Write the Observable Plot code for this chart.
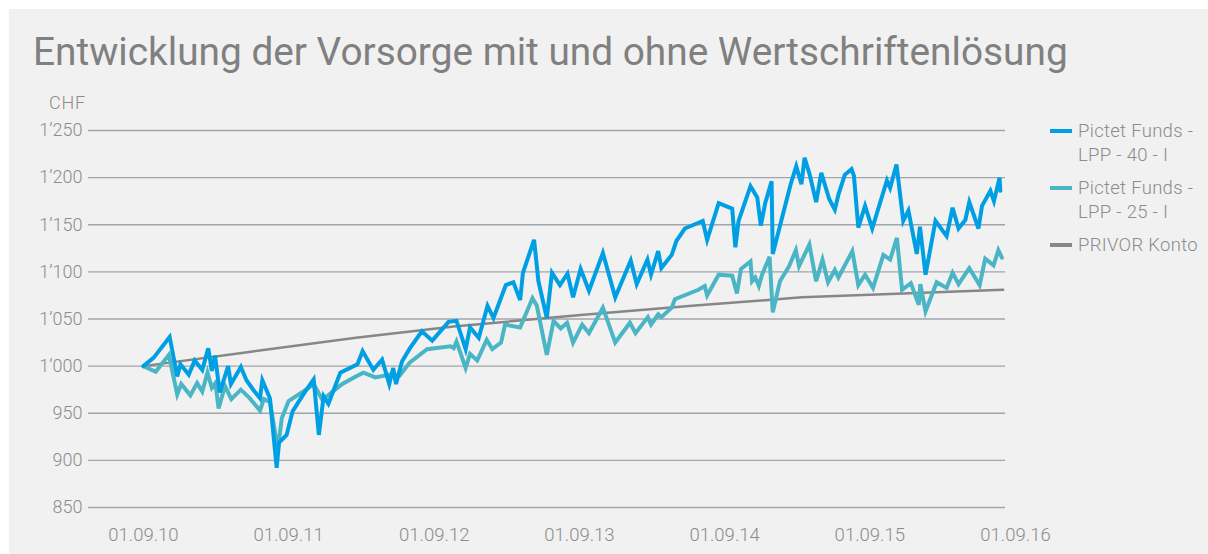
<!DOCTYPE html>
<html><head><meta charset="utf-8">
<script src="https://cdn.jsdelivr.net/npm/d3@7"></script>
<script src="https://cdn.jsdelivr.net/npm/@observablehq/plot@0.6"></script>
<style>
body{margin:0;background:#fff;font-family:Roboto,sans-serif;}
#panel{position:absolute;left:9px;top:9px;width:1199px;height:545px;background:#f1f1f1;overflow:hidden}
#title{position:absolute;left:24px;top:23px;font-size:38.8px;line-height:40px;color:#808080;white-space:nowrap}
#chf{position:absolute;left:0;width:77px;text-align:right;top:83px;font-size:18px;line-height:22px;color:#8c8c8c;font-weight:300;letter-spacing:0.8px}
#chart{position:absolute;left:0;top:81px}
#chart svg text{font-weight:300}
.entry{position:absolute;left:1041px;font-size:18.5px;line-height:24px;color:#8c8c8c;font-weight:300;letter-spacing:0.3px}
.sw{position:absolute;left:0;top:10px;width:22px;height:4px}
.txt{position:absolute;left:28px;top:0;white-space:nowrap}
</style></head>
<body>
<div id="panel">
  <div id="title">Entwicklung der Vorsorge mit und ohne Wertschriftenlösung</div>
  <div id="chf">CHF</div>
  <div id="chart"></div>
  <div id="legend"></div>
</div>
<script>
const seriesNames = ["Pictet Funds -\nLPP - 40 - I", "Pictet Funds -\nLPP - 25 - I", "PRIVOR Konto"];
const seriesColors = ["#009fe3", "#4ab5c4", "#878787"];

const dates40 = ["2010-09-01","2010-09-27","2010-11-06","2010-11-25","2010-12-03","2010-12-24","2011-01-08","2011-01-27","2011-02-11","2011-02-20","2011-02-28","2011-03-12","2011-04-02","2011-04-09","2011-05-04","2011-05-18","2011-06-04","2011-06-21","2011-06-27","2011-07-16","2011-08-02","2011-08-08","2011-08-27","2011-09-11","2011-10-08","2011-11-03","2011-11-16","2011-11-28","2011-12-10","2012-01-09","2012-02-21","2012-03-05","2012-04-01","2012-04-23","2012-05-11","2012-05-21","2012-05-28","2012-06-12","2012-07-02","2012-08-01","2012-08-27","2012-10-07","2012-10-27","2012-11-19","2012-11-30","2012-12-22","2013-01-13","2013-01-28","2013-02-28","2013-03-19","2013-04-05","2013-04-12","2013-05-10","2013-05-21","2013-06-11","2013-06-24","2013-07-14","2013-08-02","2013-08-16","2013-09-04","2013-09-25","2013-10-30","2013-11-30","2014-01-08","2014-01-23","2014-02-19","2014-02-28","2014-03-18","2014-03-26","2014-04-21","2014-05-03","2014-05-24","2014-07-08","2014-07-19","2014-08-17","2014-09-20","2014-09-28","2014-10-06","2014-11-05","2014-11-22","2014-12-01","2014-12-12","2014-12-28","2014-12-31","2015-01-28","2015-02-14","2015-02-28","2015-03-13","2015-03-21","2015-04-03","2015-04-19","2015-05-02","2015-05-22","2015-06-05","2015-06-14","2015-06-30","2015-07-17","2015-07-23","2015-08-03","2015-08-20","2015-09-07","2015-10-14","2015-10-22","2015-11-07","2015-11-24","2015-12-07","2015-12-28","2016-01-05","2016-01-19","2016-02-13","2016-03-12","2016-03-27","2016-04-11","2016-04-28","2016-05-08","2016-05-31","2016-06-09","2016-06-30","2016-07-09","2016-07-23","2016-07-25"];
const values40 = [1000,1009,1031,989,1002,991,1006,996,1019,995,1011,972,1000,981,999,985,975,966,985,966,892,919,927,952,970,986,927,968,960,993,1002,1016,996,1007,981,998,981,1005,1019,1037,1027,1047,1048,1018,1041,1030,1064,1051,1086,1089,1070,1099,1134,1090,1051,1099,1086,1098,1073,1103,1080,1120,1073,1112,1087,1113,1097,1122,1104,1118,1133,1146,1154,1134,1173,1167,1126,1154,1191,1179,1149,1173,1196,1119,1165,1193,1212,1193,1221,1203,1174,1205,1177,1166,1182,1203,1209,1202,1147,1170,1146,1197,1189,1214,1154,1165,1119,1148,1097,1154,1138,1168,1146,1155,1174,1146,1170,1186,1175,1200,1186];

const dates25 = ["2010-09-01","2010-10-02","2010-11-04","2010-11-25","2010-12-05","2010-12-28","2011-01-14","2011-01-27","2011-02-09","2011-02-20","2011-03-01","2011-03-09","2011-03-25","2011-04-10","2011-05-04","2011-05-26","2011-06-21","2011-07-01","2011-07-16","2011-08-05","2011-08-15","2011-09-01","2011-10-04","2011-11-03","2011-11-24","2011-12-06","2012-01-14","2012-02-17","2012-03-07","2012-04-06","2012-05-13","2012-06-06","2012-07-02","2012-08-14","2012-10-12","2012-10-20","2012-10-27","2012-11-19","2012-11-30","2012-12-18","2013-01-11","2013-01-25","2013-02-16","2013-02-26","2013-04-05","2013-05-06","2013-05-17","2013-06-11","2013-06-28","2013-07-16","2013-08-01","2013-08-16","2013-09-08","2013-09-25","2013-10-30","2013-11-30","2014-01-06","2014-01-20","2014-02-20","2014-02-28","2014-03-18","2014-03-26","2014-04-21","2014-04-29","2014-06-27","2014-07-13","2014-07-19","2014-08-17","2014-09-20","2014-10-02","2014-10-12","2014-11-05","2014-11-09","2014-11-17","2014-11-26","2014-12-04","2014-12-23","2014-12-31","2015-01-18","2015-02-10","2015-02-27","2015-03-07","2015-04-02","2015-04-19","2015-05-05","2015-05-19","2015-06-05","2015-06-14","2015-07-19","2015-08-03","2015-08-20","2015-09-09","2015-10-05","2015-10-22","2015-11-08","2015-11-21","2015-12-13","2016-01-02","2016-01-06","2016-01-19","2016-02-16","2016-03-12","2016-03-27","2016-04-11","2016-05-08","2016-06-03","2016-06-17","2016-07-08","2016-07-20","2016-07-29"];
const values25 = [1000,994,1012,970,981,969,982,973,993,977,982,955,979,965,975,966,953,965,962,912,945,963,972,981,965,968,981,989,993,988,991,990,1004,1018,1021,1019,1026,998,1013,1006,1028,1018,1025,1044,1041,1072,1064,1012,1048,1040,1046,1025,1044,1035,1062,1025,1046,1035,1052,1044,1055,1052,1062,1071,1081,1085,1075,1097,1096,1077,1103,1111,1090,1094,1085,1097,1116,1057,1090,1106,1123,1106,1129,1090,1113,1089,1102,1094,1122,1086,1097,1083,1118,1113,1136,1081,1088,1065,1087,1058,1089,1083,1099,1087,1104,1086,1114,1107,1123,1115];

const datesPrivor = ["2010-09-01","2011-05-25","2012-02-17","2012-10-20","2013-08-28","2014-06-11","2015-03-14","2015-11-24","2016-08-01"];
const valuesPrivor = [1000,1015,1030,1042,1054,1064,1073,1077,1081];

const yTicks = [850,900,950,1000,1050,1100,1150,1200,1250];
const xTickLabels = ["2010-09-01","2011-09-01","2012-09-01","2013-09-01","2014-09-01","2015-09-01","2016-09-01"];
const xDomain = ["2010-04-16","2016-08-07"];

const parse = d3.utcParse("%Y-%m-%d");
const zip = (ds, vs) => ds.map((d, i) => ({date: parse(d), value: vs[i]}));
const lpp40 = zip(dates40, values40);
const lpp25 = zip(dates25, values25);
const privor = zip(datesPrivor, valuesPrivor);

const loc = d3.formatLocale({decimal: ".", thousands: "\u2019", grouping: [3], currency: ["", ""]});
const yFmt = loc.format(",d");
const xFmt = d3.utcFormat("%d.%m.%y");

const chart = Plot.plot({
  width: 1199, height: 464,
  marginTop: 40, marginBottom: 47, marginLeft: 79, marginRight: 203,
  style: {background: "transparent", fontFamily: "Roboto, sans-serif", fontSize: "18px", color: "#8c8c8c", overflow: "visible"},
  x: {type: "utc", domain: xDomain.map(parse)},
  y: {domain: [850, 1250]},
  marks: [
    Plot.gridY(yTicks, {stroke: "#a0a6ac", strokeOpacity: 1, strokeWidth: 1.3}),
    Plot.axisY(yTicks, {tickSize: 0, tickPadding: 6, tickFormat: yFmt, label: null, fill: "#8c8c8c"}),
    Plot.axisX(xTickLabels.map(parse), {tickSize: 0, tickPadding: 20, tickFormat: xFmt, label: null, fill: "#8c8c8c", fontSize: 18.5, style: {letterSpacing: "1.9px"}}),
    Plot.line(privor, {x: "date", y: "value", stroke: seriesColors[2], strokeWidth: 2.5}),
    Plot.line(lpp25, {x: "date", y: "value", stroke: seriesColors[1], strokeWidth: 4, strokeLinejoin: "miter", strokeMiterlimit: 4}),
    Plot.line(lpp40, {x: "date", y: "value", stroke: seriesColors[0], strokeWidth: 4, strokeLinejoin: "miter", strokeMiterlimit: 4})
  ]
});
document.getElementById("chart").appendChild(chart);

const legend = document.getElementById("legend");
const tops = [110, 167, 224];
seriesNames.forEach((name, i) => {
  const e = document.createElement("div");
  e.className = "entry";
  e.style.top = tops[i] + "px";
  const sw = document.createElement("div");
  sw.className = "sw"; sw.style.background = seriesColors[i];
  const t = document.createElement("div");
  t.className = "txt";
  t.innerHTML = name.split("\n").join("<br>");
  e.appendChild(sw); e.appendChild(t);
  legend.appendChild(e);
});
</script>
</body></html>
